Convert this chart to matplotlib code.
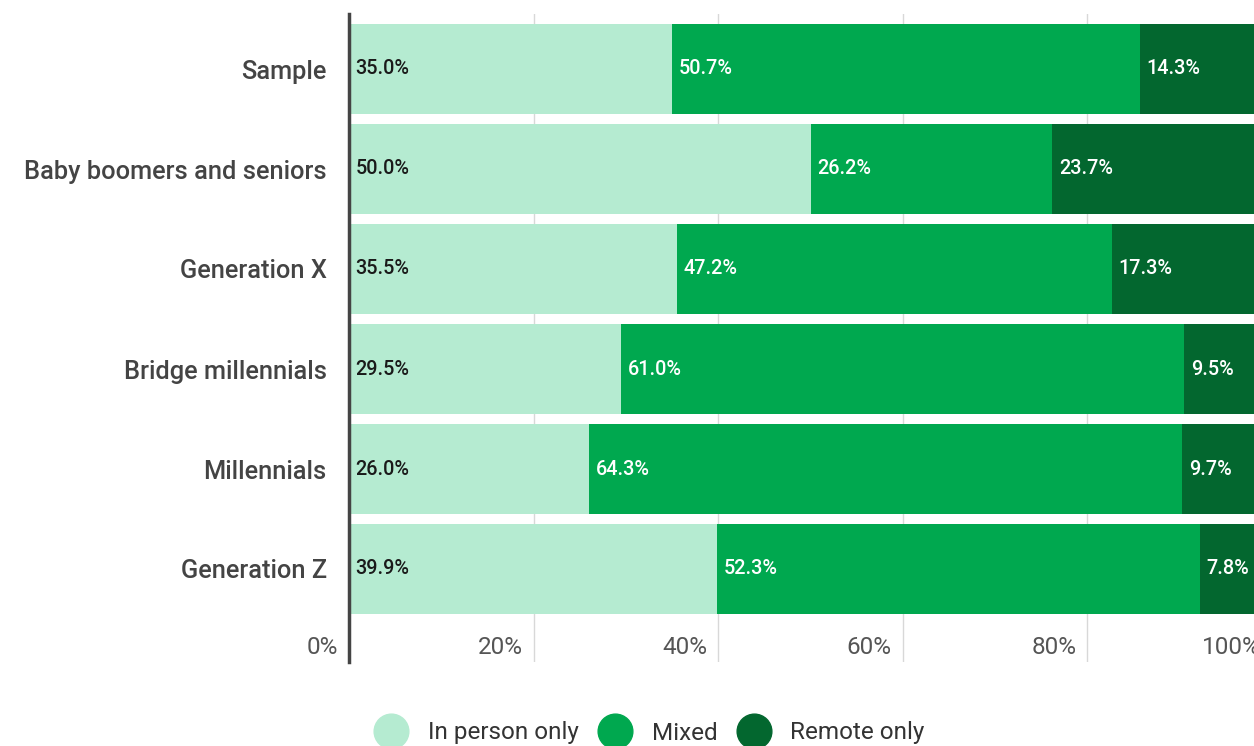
import matplotlib
matplotlib.use("Agg")
import matplotlib.pyplot as plt
from matplotlib.lines import Line2D
from matplotlib.transforms import blended_transform_factory

plt.rcParams['font.family'] = ['Roboto', 'DejaVu Sans']

# data
groups = ["Sample", "Baby boomers and seniors", "Generation X",
          "Bridge millennials", "Millennials", "Generation Z"]
in_person = [35.0, 50.0, 35.5, 29.5, 26.0, 39.9]
mixed = [50.7, 26.2, 47.2, 61.0, 64.3, 52.3]
remote = [14.3, 23.7, 17.3, 9.5, 9.7, 7.8]
series_names = ["In person only", "Mixed", "Remote only"]
colors = ["#b5ebd1", "#00a84f", "#03672f"]
text_colors = ["#1a1a1a", "white", "white"]
xticks = [0, 20, 40, 60, 80, 100]

W, H = 1254, 746
fig = plt.figure(figsize=(W / 100, H / 100), dpi=100)
ax = fig.add_axes([349 / W, 84 / H, 923 / W, (662 - 14) / H])

ypos = list(range(len(groups)))
left = [0] * len(groups)
for vals, col, tcol in zip([in_person, mixed, remote], colors, text_colors):
    ax.barh(ypos, vals, left=left, height=0.9, color=col, zorder=2)
    for y, l, v in zip(ypos, left, vals):
        ax.text(l + 0.7, y, f"{v:.1f}%", color=tcol, va="center", ha="left",
                fontsize=14.3, fontweight="medium", zorder=3)
    left = [l + v for l, v in zip(left, vals)]

ax.set_xlim(0, 100)
ax.set_ylim(5.93, -0.55)
for x in xticks[1:]:
    ax.axvline(x, color="#d8d8d8", lw=1, zorder=1)

ax.set_yticks(ypos)
ax.set_yticklabels(groups, fontsize=18.3, color="#444444", fontweight="medium")
ax.tick_params(axis="y", length=0, pad=16)
ax.set_xticks([])

trans = blended_transform_factory(ax.transData, ax.transAxes)
for x in xticks:
    ax.text(x - 1.2, 0.022, f"{x}%", transform=trans, ha="right", va="center",
            fontsize=17.5, color="#555555")

for s in ["top", "right", "bottom"]:
    ax.spines[s].set_visible(False)
ax.spines["left"].set_color("#444444")
ax.spines["left"].set_linewidth(2.5)
ax.spines["left"].set_zorder(4)

handles = [Line2D([], [], marker="o", ls="", markersize=25, color=c) for c in colors]
fig.legend(handles, series_names, loc="center", bbox_to_anchor=(0.515, 1 - 733 / H),
           ncol=3, frameon=False, fontsize=17.5, labelcolor="#333333",
           handletextpad=0.5, columnspacing=0.5)

fig.savefig("out.png", dpi=100)
